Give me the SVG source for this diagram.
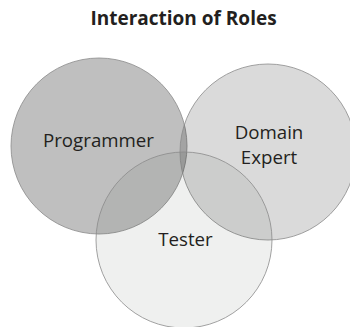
<svg xmlns="http://www.w3.org/2000/svg" width="350" height="327" viewBox="0 0 350 327">
<style>
.c{stroke:#8a8a8a;stroke-width:0.8}
.t{font-family:"Open Sans","Liberation Sans",sans-serif;font-size:18.7px;fill:#231f20;text-anchor:middle}
.h{font-family:"Open Sans","Liberation Sans",sans-serif;font-size:19px;font-weight:bold;fill:#231f20;text-anchor:middle}
</style>
<rect width="350" height="327" fill="#ffffff"/>
<text class="h" x="183.5" y="25">Interaction of Roles</text>
<g id="programmer">
<circle class="c" cx="99" cy="146" r="88" fill="#000" fill-opacity="0.25"/>
</g>
<g id="domain-expert">
<circle class="c" cx="268" cy="152" r="88" fill="#000" fill-opacity="0.145"/>
</g>
<g id="tester">
<circle class="c" cx="184" cy="240" r="88" fill="#1a2a1a" fill-opacity="0.07"/>
</g>
<g id="labels">
<text class="t" x="98.5" y="147">Programmer</text>
<text class="t" x="269" y="139">Domain</text>
<text class="t" x="269" y="164">Expert</text>
<text class="t" x="185.5" y="246">Tester</text>
</g>
</svg>
